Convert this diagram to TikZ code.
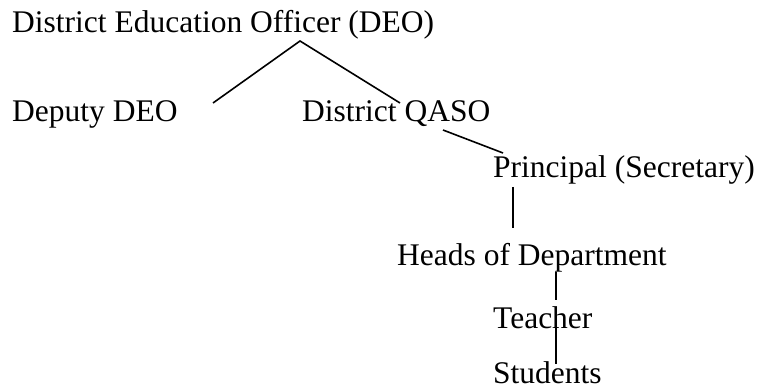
\documentclass[tikz,border=0pt]{standalone}
\usepackage{fontspec}
\setmainfont{Liberation Serif}
\begin{document}
\begin{tikzpicture}[x=1pt,y=-1pt,
  lbl/.style={anchor=base west,inner sep=0pt,font=\fontsize{31.5}{36}\selectfont},
  conn/.style={line width=1.6pt,black}]
\useasboundingbox (0,0) rectangle (760,390);
\node[lbl] (deo) at (12,32.5) {District Education Officer (DEO)};
\node[lbl] (dep) at (12,122) {Deputy DEO};
\node[lbl] (qaso) at (302,122) {District QASO};
\node[lbl] (prin) at (493,178) {Principal (Secretary)};
\node[lbl] (hod) at (397,265) {Heads of Department};
\node[lbl] (tea) at (493,328) {Teacher};
\node[lbl] (stu) at (493,383) {Students};
\coordinate (apex) at (300,41);
\coordinate (depE) at (213,103);
\coordinate (qasoE) at (400,103);
\coordinate (qasoS) at (443,130);
\coordinate (prinN) at (503,153);
\coordinate (prinS) at (513,187);
\coordinate (hodN) at (513,228);
\coordinate (hodS) at (556,272);
\coordinate (teaN) at (556,300);
\coordinate (teaS) at (556,325);
\coordinate (stuN) at (556,364);
\draw[conn] (depE) -- (apex) -- (qasoE);
\draw[conn] (qasoS) -- (prinN);
\draw[conn] (prinS) -- (hodN);
\draw[conn] (hodS) -- (teaN);
\draw[conn] (teaS) -- (stuN);
\end{tikzpicture}
\end{document}
